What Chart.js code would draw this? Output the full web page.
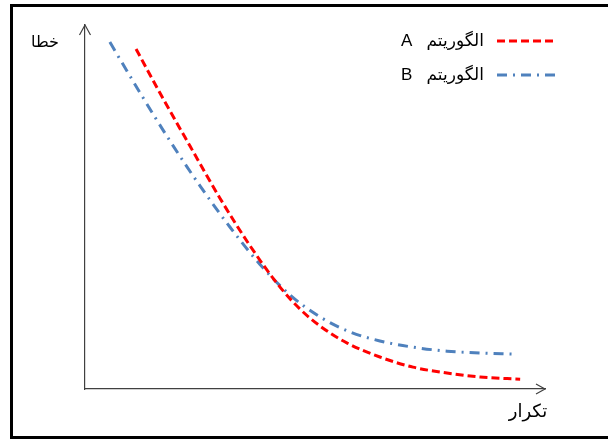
<!DOCTYPE html>
<html lang="fa">
<head>
<meta charset="utf-8">
<title>خطا / تکرار</title>
<script src="https://cdn.jsdelivr.net/npm/chart.js@4.4.1/dist/chart.umd.min.js"></script>
<style>
  html, body { margin: 0; padding: 0; background: #fff; overflow: hidden; }
  canvas { display: block; }
</style>
</head>
<body>
<canvas id="grafico" width="608" height="439"></canvas>
<script>
// eixos (sem unidades, só a forma da curva)
const yName = 'خطا';
const xName = 'تکرار';

// algoritmo A (vermelho, tracejado)
const labelA = 'الگوریتم A';
const itersA = [11.1, 16.3, 22.8, 29.3, 35.9, 42.4, 46.7, 51.1, 57.0, 64.1, 71.3, 78.7, 85.9, 94.6];
const errorA = [93.4, 81.3, 66.8, 52.5, 39.3, 28.0, 22.0, 17.3, 12.6, 8.8, 6.0, 4.4, 3.3, 2.7];

// algoritmo B (azul, traço-ponto)
const labelB = 'الگوریتم B';
const itersB = [5.4, 12.0, 18.5, 25.0, 31.5, 38.0, 44.6, 51.1, 57.6, 64.1, 71.3, 78.7, 85.9, 92.8];
const errorB = [95.3, 81.3, 68.1, 55.8, 44.5, 34.3, 25.8, 19.8, 15.7, 13.2, 11.5, 10.4, 9.9, 9.6];

const axisColor = '#404040';

const toPoints = (xs, ys) => xs.map((x, i) => ({ x: x, y: ys[i] }));

// moldura preta (só esquerda, topo e base: a direita fica fora da imagem)
const frame = {
    id: 'frame',
    beforeDraw(chart) {
        const c = chart.ctx;
        c.save();
        c.strokeStyle = '#000';
        c.lineWidth = 3;
        c.beginPath();
        c.moveTo(chart.width + 5, 5.5);
        c.lineTo(11.5, 5.5);
        c.lineTo(11.5, 437.5);
        c.lineTo(chart.width + 5, 437.5);
        c.stroke();
        c.restore();
    }
};

// setas dos eixos, nomes dos eixos e legenda desenhada à mão
const decor = {
    id: 'decor',
    afterDraw(chart) {
        const { ctx, chartArea: a } = chart;
        ctx.save();

        ctx.strokeStyle = axisColor;
        ctx.lineWidth = 1.2;
        ctx.beginPath();
        ctx.moveTo(a.left - 5.5, a.top + 10);
        ctx.lineTo(a.left, a.top);
        ctx.lineTo(a.left + 5.5, a.top + 10);
        ctx.moveTo(a.right - 9, a.bottom - 5);
        ctx.lineTo(a.right, a.bottom);
        ctx.lineTo(a.right - 9, a.bottom + 5);
        ctx.stroke();

        ctx.fillStyle = '#000';
        ctx.direction = 'rtl';
        ctx.textAlign = 'center';
        ctx.textBaseline = 'middle';
        ctx.font = '16px "DejaVu Sans"';
        ctx.fillText(yName, a.left - 40, a.top + 18);
        ctx.font = '18px "DejaVu Sans"';
        ctx.fillText(xName, a.right - 17, a.bottom + 23);

        ctx.font = '17px "Liberation Sans", "DejaVu Sans"';
        chart.data.datasets.forEach((ds, i) => {
            const y = 41 + i * 34;
            ctx.setLineDash(ds.borderDash);
            ctx.strokeStyle = ds.borderColor;
            ctx.lineWidth = 3;
            ctx.beginPath();
            ctx.moveTo(497, y);
            ctx.lineTo(555, y);
            ctx.stroke();
            ctx.setLineDash([]);
            ctx.textAlign = 'right';
            // espaço largo entre a palavra e a letra, como no original
            ctx.fillText(ds.label.replace(' ', '\u00A0\u00A0\u00A0'), 484, y);
        });

        ctx.restore();
    }
};

const ctx = document.getElementById('grafico').getContext('2d');
const chartInstance = new Chart(ctx, {
    type: 'line',
    data: {
        datasets: [{
            label: labelA,
            data: toPoints(itersA, errorA),
            borderColor: 'rgb(255, 0, 0)',
            borderWidth: 3,
            borderDash: [8, 4],
            cubicInterpolationMode: 'monotone',
            fill: false
        }, {
            label: labelB,
            data: toPoints(itersB, errorB),
            borderColor: 'rgb(79, 129, 189)',
            borderWidth: 3,
            borderDash: [10, 6, 2, 6],
            cubicInterpolationMode: 'monotone',
            fill: false
        }]
    },
    options: {
        responsive: false,
        animation: false,
        devicePixelRatio: 1,
        layout: { padding: { left: 85, top: 25, right: 63, bottom: 50 } },
        elements: { point: { radius: 0 } },
        plugins: {
            legend: { display: false },
            tooltip: { enabled: false }
        },
        scales: {
            x: {
                type: 'linear', min: 0, max: 100,
                ticks: { display: false },
                grid: { display: false, drawTicks: false },
                border: { display: true, color: axisColor, width: 1.2 }
            },
            y: {
                type: 'linear', min: 0, max: 100,
                ticks: { display: false },
                grid: { display: false, drawTicks: false },
                border: { display: true, color: axisColor, width: 1.2 }
            }
        }
    },
    plugins: [frame, decor]
});
</script>
</body>
</html>
